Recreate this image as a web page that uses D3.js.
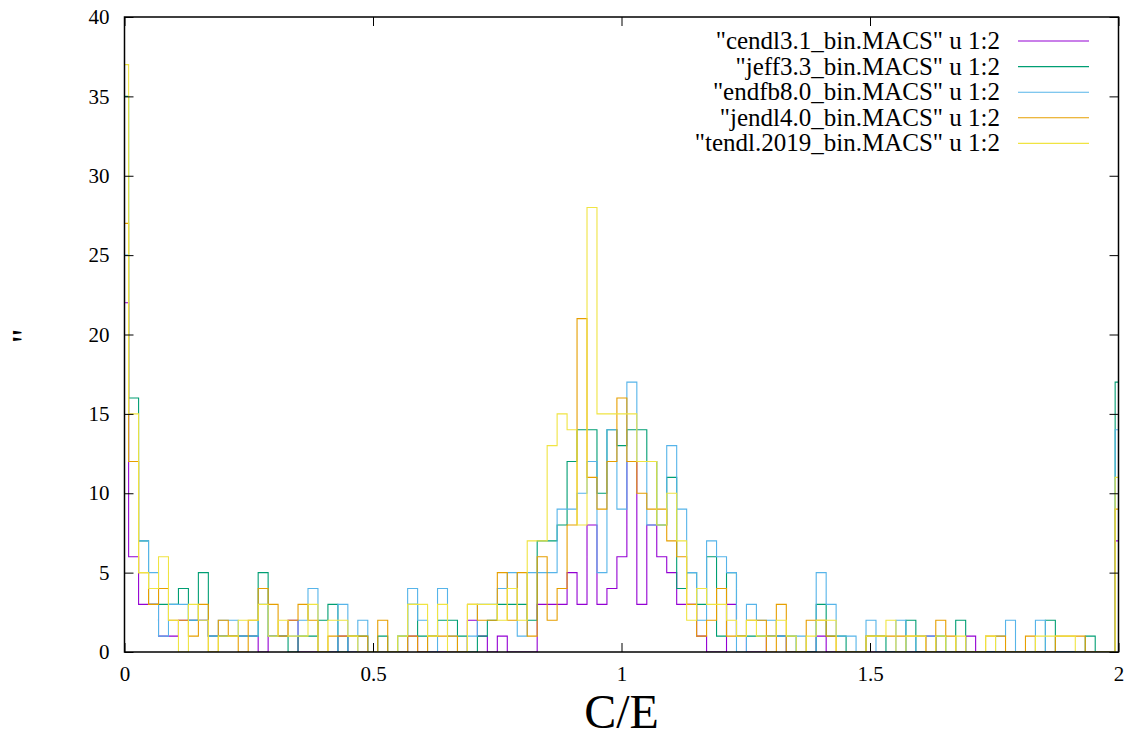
<!DOCTYPE html>
<html><head><meta charset="utf-8">
<script src="https://cdn.jsdelivr.net/npm/d3@7"></script>
<style>body{margin:0;background:#fff}svg{display:block}text{font-family:"Liberation Serif","Times New Roman",serif;fill:#000}</style>
</head><body>
<svg id="c" width="1136" height="740"></svg>
<script>
// ---- data ----
// index 0: first point at C/E = 0; indices 1..100: bins starting at binStart with width binWidth
const binStart = 0.0083;
const binWidth = 0.02005;
const seriesNames = ['"cendl3.1_bin.MACS" u 1:2','"jeff3.3_bin.MACS" u 1:2','"endfb8.0_bin.MACS" u 1:2','"jendl4.0_bin.MACS" u 1:2','"tendl.2019_bin.MACS" u 1:2'];
const seriesColors = ["#9400d3","#009e73","#56b4e9","#e69f00","#f0e442"];
const cendl = [22,
 6,3,3,1,1,2,2,2,1,1,1,1,1,0,1,1,
 2,0,0,0,0,1,0,0,0,0,0,0,1,0,0,0,0,
 0,2,1,0,1,0,0,0,3,3,
 3,5,3,8,3,4,6,12,3,8,6,5,3,3,
 1,0,0,3,1,0,0,1,1,0,0,0,1,
 0,0,0,0,0,0,0,0,0,0,1,0,0,0,1,0,0,0,0,0,0,0,0,0,0,0,0,0,0,
 7];
const jeff = [35,
 16,7,3,3,3,4,2,5,1,1,1,1,1,5,1,1,
 0,1,1,2,3,0,1,1,0,1,0,1,3,1,1,2,2,
 1,0,1,2,3,3,3,2,7,7,
 8,12,14,14,10,14,13,14,14,12,8,11,4,5,
 3,6,1,5,1,1,1,1,1,1,0,0,3,
 1,1,0,0,1,1,0,0,2,0,0,1,0,2,0,0,0,0,0,0,0,0,2,0,0,0,1,0,0,
 17];
const endfb = [25,
 12,7,5,1,3,3,2,2,1,2,2,1,1,3,1,1,
 1,2,4,0,0,3,0,2,0,0,0,0,4,2,0,4,1,
 0,1,3,3,4,5,1,5,5,5,
 9,9,10,12,5,14,9,17,12,8,8,13,9,5,
 2,7,6,5,0,3,2,2,1,0,1,0,5,
 3,1,1,0,2,0,0,2,0,1,1,0,0,0,0,0,0,1,2,0,0,2,0,0,0,0,0,0,0,
 14];
const jendl = [27,
 12,5,3,4,2,2,1,3,0,2,1,0,2,4,3,1,
 2,3,2,0,1,1,1,1,0,2,0,0,1,0,1,1,1,
 0,3,2,2,5,2,5,1,6,2,
 4,8,21,11,9,12,16,12,10,9,9,7,6,3,
 1,2,4,1,1,2,2,0,3,0,0,2,2,
 1,0,0,0,1,1,1,1,1,1,0,2,1,0,0,0,1,1,0,0,1,0,0,1,1,1,0,0,0,
 9];
const tendl = [37,
 15,5,4,6,2,0,3,2,0,1,1,2,2,3,1,2,
 1,1,3,0,2,2,1,0,0,0,0,1,3,3,1,3,0,
 0,3,3,3,2,4,2,7,7,13,
 15,14,8,28,15,15,15,15,12,12,8,10,7,2,
 4,3,3,2,1,2,1,1,2,1,0,1,2,
 2,0,0,0,1,1,2,0,1,1,0,1,0,1,0,0,1,0,0,0,0,1,1,1,1,0,0,0,0,
 11];
const seriesValues = [cendl, jeff, endfb, jendl, tendl];
const xTicks = [0, 0.5, 1, 1.5, 2];
const xTickLabels = ["0","0.5","1","1.5","2"];
const yTicks = [0,5,10,15,20,25,30,35,40];

// ---- drawing ----
const svg = d3.select("#c");
const L = 124.5, R = 1118.5, T = 17, B = 652;
const x = d3.scaleLinear().domain([0, 2]).range([L, R]);
const y = d3.scaleLinear().domain([0, 40]).range([B, T]);

const edges = [0].concat(d3.range(100).map(i => binStart + i * binWidth));

svg.append("clipPath").attr("id","clip").append("rect")
  .attr("x", L).attr("y", T).attr("width", R - L).attr("height", B - T);

const line = d3.line().x(d => x(d[0])).y(d => y(d[1])).curve(d3.curveStepAfter);
const g = svg.append("g").attr("clip-path","url(#clip)");
seriesValues.forEach((vals, si) => {
  const pts = vals.map((v, i) => [edges[i], v]);
  pts.push([2.05, vals[vals.length - 1]]);
  g.append("path").attr("d", line(pts)).attr("fill","none")
    .attr("stroke", seriesColors[si]).attr("stroke-width", 1.1);
});

// axes with inward ticks
const tl = 9;
const ax = svg.append("g");
ax.append("g").attr("transform", `translate(0,${B})`)
  .call(d3.axisBottom(x).tickValues(xTicks).tickFormat((d,i)=>xTickLabels[i]).tickSizeInner(-tl).tickSizeOuter(0).tickPadding(14))
  .call(s => { s.select(".domain").remove(); s.selectAll("text").attr("font-size", 21).attr("font-family","Liberation Serif"); });
ax.append("g").attr("transform", `translate(0,${T})`)
  .call(d3.axisTop(x).tickValues(xTicks).tickFormat("").tickSizeInner(-tl).tickSizeOuter(0))
  .call(s => s.select(".domain").remove());
ax.append("g").attr("transform", `translate(${L},0)`)
  .call(d3.axisLeft(y).tickValues(yTicks).tickSizeInner(-tl).tickSizeOuter(0).tickPadding(15))
  .call(s => { s.select(".domain").remove(); s.selectAll("text").attr("font-size", 21).attr("font-family","Liberation Serif"); });
ax.append("g").attr("transform", `translate(${R},0)`)
  .call(d3.axisRight(y).tickValues(yTicks).tickFormat("").tickSizeInner(-tl).tickSizeOuter(0))
  .call(s => s.select(".domain").remove());
ax.selectAll(".tick line").attr("stroke","#000").attr("stroke-width",1);

svg.append("rect").attr("x", L).attr("y", T).attr("width", R - L).attr("height", B - T)
  .attr("fill","none").attr("stroke","#000").attr("stroke-width",1.5);

// axis labels
svg.append("text").attr("x", (L + R) / 2).attr("y", 728).attr("text-anchor","middle")
  .attr("font-size", 48).text("C/E");
svg.append("text").attr("transform","translate(37,336) rotate(-90)").attr("text-anchor","middle")
  .attr("font-size", 36).text("\"");

// legend
const lg = svg.append("g");
seriesNames.forEach((n, i) => {
  const yy = 41 + i * 25.6;
  lg.append("text").attr("x", 1000).attr("y", yy + 8).attr("text-anchor","end")
    .attr("font-size", 25).text(n);
  lg.append("line").attr("x1", 1018).attr("x2", 1089).attr("y1", yy).attr("y2", yy)
    .attr("stroke", seriesColors[i]).attr("stroke-width", 1.1);
});
</script>
</body></html>
